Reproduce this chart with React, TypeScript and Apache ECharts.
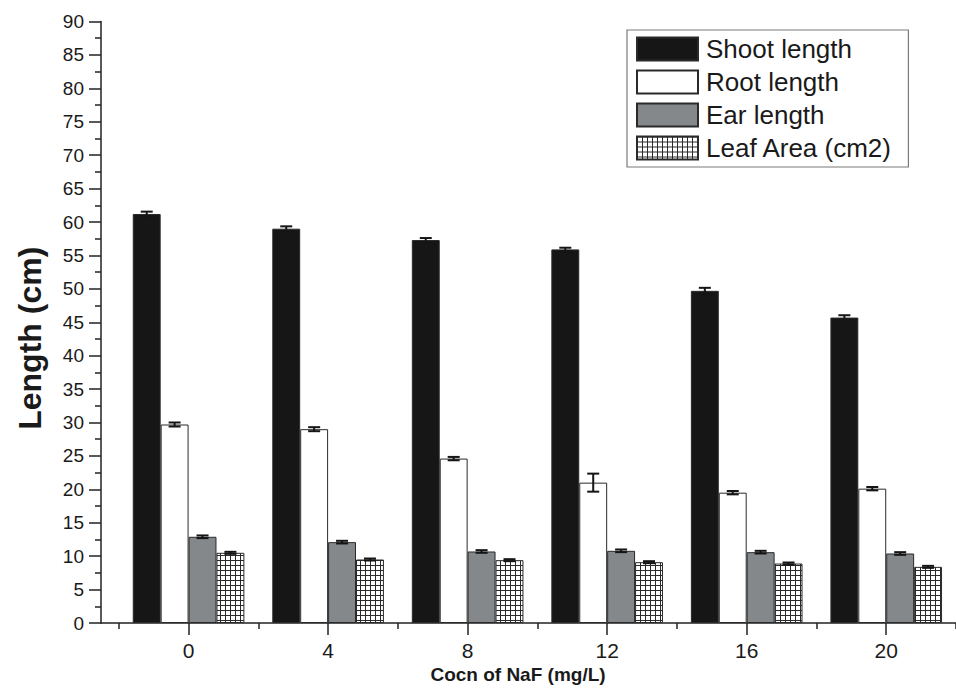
import React, { useEffect, useRef } from "react";
import * as echarts from "echarts";

const categories = ["0", "4", "8", "12", "16", "20"];
const seriesNames = ["Shoot length", "Root length", "Ear length", "Leaf Area (cm2)"];
const shoot = [61.2, 59.0, 57.3, 55.9, 49.7, 45.7];
const shootErr = [0.35, 0.35, 0.3, 0.25, 0.45, 0.35];
const root = [29.7, 29.0, 24.6, 21.0, 19.5, 20.1];
const rootErr = [0.3, 0.3, 0.25, 1.35, 0.25, 0.25];
const ear = [12.9, 12.1, 10.7, 10.8, 10.6, 10.4];
const earErr = [0.2, 0.2, 0.2, 0.2, 0.2, 0.2];
const leaf = [10.5, 9.5, 9.4, 9.1, 8.9, 8.4];
const leafErr = [0.15, 0.15, 0.15, 0.15, 0.15, 0.15];
const yMin = 0;
const yMax = 90;
const yInterval = 5;

const FONT = "'Liberation Sans', Arial, sans-serif";
const NARROW = "'Liberation Sans Narrow', 'Arial Narrow', 'Liberation Sans', Arial, sans-serif";

function makeHatch() {
  const c = document.createElement("canvas");
  c.width = 5;
  c.height = 5;
  const ctx = c.getContext("2d")!;
  ctx.fillStyle = "#ffffff";
  ctx.fillRect(0, 0, 5, 5);
  ctx.fillStyle = "#2a2a2a";
  ctx.fillRect(0, 0, 5, 1);
  ctx.fillRect(0, 0, 1, 5);
  return c;
}

export default function App() {
  const ref = useRef<HTMLDivElement>(null);
  useEffect(() => {
    document.body.style.margin = "0";
    const chart = echarts.init(ref.current!, null, { renderer: "svg" });
    const hatch = { image: makeHatch(), repeat: "repeat", imageWidth: 5, imageHeight: 5 } as any;
    const values = [shoot, root, ear, leaf];
    const errs = [shootErr, rootErr, earErr, leafErr];
    const colors: any[] = ["#161616", "#ffffff", "#85888b", hatch];
    const errData: any[] = [];
    values.forEach((arr, k) => arr.forEach((v, i) => errData.push([i, v, errs[k][i], k])));

    const barSeries = values.map((arr, k) => ({
      name: seriesNames[k],
      type: "bar",
      xAxisIndex: 1,
      yAxisIndex: 1,
      barWidth: "20%",
      barGap: "0%",
      data: arr,
      itemStyle: { color: colors[k], borderColor: "#2a2a2a", borderWidth: 1 },
      z: 2,
    }));

    const option: any = {
      animation: false,
      backgroundColor: "#ffffff",
      grid: [
        { left: 101, top: 21.5, bottom: 67, width: 877.5 },
        { left: 118.8, top: 21.5, bottom: 67, width: 842.4 },
      ],
      title: {
        text: "Cocn of NaF (mg/L)",
        left: 518,
        top: 665,
        textAlign: "center",
        textStyle: { fontFamily: NARROW, fontWeight: "bold", fontSize: 19, color: "#1a1a1a" },
        padding: 0,
      },
      legend: {
        data: seriesNames,
        orient: "vertical",
        left: 627,
        top: 30,
        icon: "rect",
        itemWidth: 61,
        itemHeight: 23,
        itemGap: 7,
        padding: [6, 16, 6, 9],
        borderColor: "#7a7a7a",
        borderWidth: 1.2,
        textStyle: { fontFamily: FONT, fontSize: 26, color: "#1a1a1a", padding: [0, 0, 0, 3] },
      },
      xAxis: [
        {
          gridIndex: 0,
          type: "value",
          position: "bottom",
          min: 0,
          max: 1,
          axisLine: { show: true, onZero: false, lineStyle: { color: "#222", width: 1.5 } },
          axisTick: { show: false },
          axisLabel: { show: false },
          splitLine: { show: false },
        },
        {
          gridIndex: 1,
          type: "category",
          position: "bottom",
          data: categories,
          axisLine: { show: false },
          axisTick: { show: true, alignWithLabel: true, length: 12, lineStyle: { color: "#222", width: 1.5 } },
          axisLabel: { fontFamily: NARROW, fontSize: 21, color: "#1a1a1a", margin: 17 },
          splitLine: { show: false },
        },
        {
          gridIndex: 1,
          type: "category",
          position: "bottom",
          offset: 0,
          data: categories,
          axisLine: { show: false },
          axisTick: { show: true, length: 6, lineStyle: { color: "#222", width: 1.5 } },
          axisLabel: { show: false },
          splitLine: { show: false },
        },
      ],
      yAxis: [
        {
          gridIndex: 0,
          type: "value",
          min: yMin,
          max: yMax,
          interval: yInterval,
          axisLine: { show: true, lineStyle: { color: "#222", width: 1.5 } },
          axisTick: { show: true, length: 12, lineStyle: { color: "#222", width: 1.5 } },
          minorTick: { show: true, splitNumber: 2, length: 6, lineStyle: { color: "#222", width: 1.5 } },
          axisLabel: { fontFamily: FONT, fontSize: 19, color: "#1a1a1a", margin: 17 },
          splitLine: { show: false },
          name: "Length (cm)",
          nameLocation: "middle",
          nameGap: 55,
          nameTextStyle: { fontFamily: FONT, fontWeight: "bold", fontSize: 32, color: "#1a1a1a", padding: [0, 32, 0, 0] },
        },
        { gridIndex: 1, type: "value", min: yMin, max: yMax, show: false },
      ],
      series: [
        ...barSeries,
        {
          type: "custom",
          name: "err",
          xAxisIndex: 1,
          yAxisIndex: 1,
          z: 5,
          encode: { x: 0, y: 1 },
          data: errData,
          renderItem: (params: any, api: any) => {
            const cat = api.value(0);
            const v = api.value(1);
            const e = api.value(2);
            const k = api.value(3);
            const bw = api.size([1, 0])[0] * 0.2;
            const c = api.coord([cat, v]);
            const x = c[0] + (k - 1.5) * bw;
            const top = api.coord([cat, v + e])[1];
            const bot = api.coord([cat, v - e])[1];
            const hw = 6;
            const style = { stroke: "#151515", lineWidth: 2 };
            return {
              type: "group",
              children: [
                { type: "line", shape: { x1: x, y1: top, x2: x, y2: bot }, style },
                { type: "line", shape: { x1: x - hw, y1: top, x2: x + hw, y2: top }, style },
                { type: "line", shape: { x1: x - hw, y1: bot, x2: x + hw, y2: bot }, style },
              ],
            };
          },
        },
      ],
    };
    chart.setOption(option);
    return () => chart.dispose();
  }, []);
  return <div ref={ref} style={{ width: 956, height: 690 }} />;
}
